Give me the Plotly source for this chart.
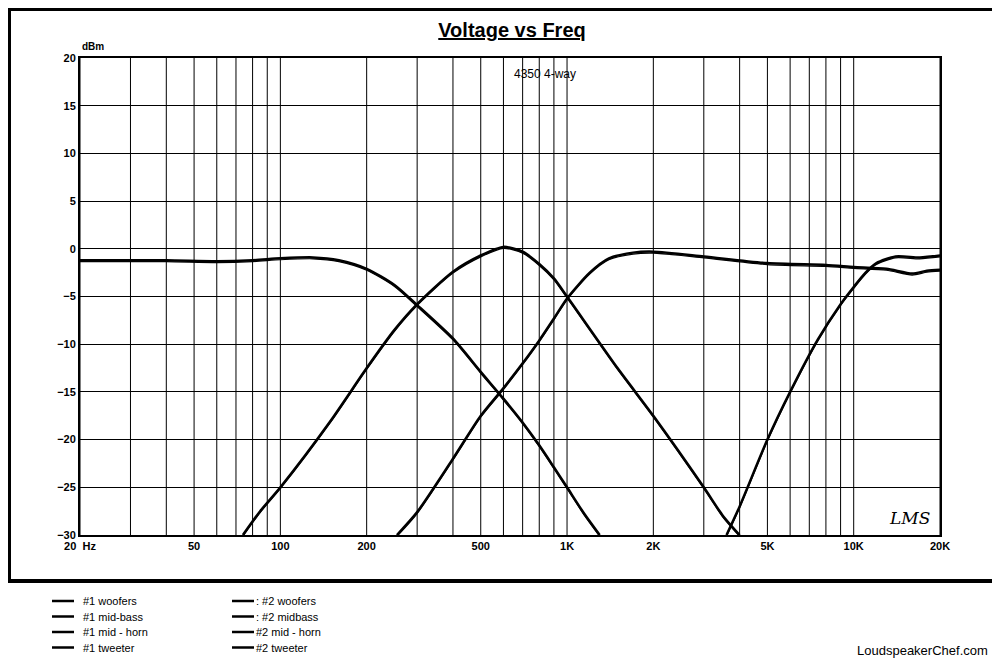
import plotly.graph_objects as go

# frequency response curves (Hz, dB)
woofer_f = [20, 40, 60, 80, 100, 130, 160, 200, 250, 300, 400, 500, 600, 700, 800, 900, 1000, 1150, 1300]
woofer_db = [-1.2, -1.2, -1.3, -1.2, -1.0, -0.9, -1.2, -2.1, -3.8, -5.9, -9.4, -12.9, -15.7, -18.2, -20.6, -22.9, -25.0, -27.8, -30.0]

midbass_f = [74, 85, 100, 150, 200, 250, 300, 400, 500, 600, 700, 800, 900, 1000, 1500, 2000, 3000, 3500, 4000]
midbass_db = [-30.0, -27.5, -25.0, -18.0, -12.5, -8.5, -5.8, -2.4, -0.7, 0.2, -0.3, -1.6, -3.1, -5.0, -12.5, -17.5, -25.0, -28.0, -30.0]

horn_f = [255, 300, 400, 500, 600, 700, 800, 900, 1000, 1200, 1400, 1700, 2000, 3000, 5000, 8000, 10000, 13000, 16000, 18000, 20000]
horn_db = [-30.0, -27.6, -22.0, -17.5, -14.6, -12.0, -9.6, -7.3, -5.2, -2.5, -1.0, -0.4, -0.3, -0.8, -1.5, -1.7, -1.9, -2.1, -2.6, -2.3, -2.2]

tweeter_f = [3600, 4000, 5000, 6000, 7500, 9000, 10000, 11000, 12000, 14000, 17000, 20000]
tweeter_db = [-30.0, -27.0, -20.0, -15.0, -9.5, -5.8, -4.0, -2.5, -1.5, -0.8, -0.9, -0.7]

tick_vals = [20, 50, 100, 200, 500, 1000, 2000, 5000, 10000, 20000]
tick_text = ["20  Hz", "50", "100", "200", "500", "1K", "2K", "5K", "10K", "20K"]
grid_vals = [20, 30, 40, 50, 60, 70, 80, 90, 100, 200, 300, 400, 500, 600, 700, 800, 900,
             1000, 2000, 3000, 4000, 5000, 6000, 7000, 8000, 9000, 10000, 20000]

legend_left = ["#1 woofers", "#1 mid-bass", "#1 mid - horn", "#1 tweeter"]
legend_right = [": #2 woofers", ": #2 midbass", "#2 mid - horn", "#2 tweeter"]

fig = go.Figure()
curves = [(woofer_f, woofer_db), (midbass_f, midbass_db), (horn_f, horn_db), (tweeter_f, tweeter_db)]
for f, db in curves:
    fig.add_trace(go.Scatter(x=f, y=db, mode="lines",
                             line=dict(color="black", width=2.5, shape="spline", smoothing=0.7),
                             showlegend=False, hoverinfo="skip"))
# second set, nearly on top of first
for f, db in curves:
    fig.add_trace(go.Scatter(x=f, y=[v - 0.15 for v in db], mode="lines",
                             line=dict(color="black", width=1.2, shape="spline", smoothing=0.7),
                             showlegend=False, hoverinfo="skip"))

# vertical grid lines
for g in grid_vals:
    fig.add_shape(type="line", xref="x", yref="paper", x0=g, x1=g, y0=0, y1=1,
                  line=dict(color="black", width=1), layer="below")

font = dict(family="Liberation Sans, Arial", size=11, color="black")

# page has an 8px body margin, so the figure is drawn 8px in from the window edge
OFF = 8
W, H = 1000 - OFF, 665 - OFF
L, T = 80 - OFF, 58 - OFF
PW, PH = 860, 477

fig.update_layout(
    width=W, height=H,
    margin=dict(l=L, r=W - L - PW, t=T, b=H - T - PH),
    paper_bgcolor="white", plot_bgcolor="white",
    font=font,
    xaxis=dict(type="log", range=[1.30103, 4.30103], tickvals=tick_vals, ticktext=tick_text,
               showgrid=False, showline=True, linecolor="black", linewidth=2, mirror=True,
               tickfont=dict(family="Liberation Sans, Arial", size=11, color="black", weight="bold"),
               ticks="", zeroline=False),
    yaxis=dict(range=[-30, 20], dtick=5, showgrid=True, gridcolor="black", gridwidth=1,
               showline=True, linecolor="black", linewidth=2, mirror=True, zeroline=False,
               ticks="", tickfont=dict(family="Liberation Sans, Arial", size=11, color="black", weight="bold")),
    title=dict(text="<b><u>Voltage vs Freq</u></b>", x=(512 - OFF) / W, xanchor="center",
               y=1 - (30 - OFF) / H, yanchor="middle",
               font=dict(family="Liberation Sans, Arial", size=20, color="black")),
)


def px_x(p):
    return (p - 80) / PW


def px_y(p):
    return (535 - p) / PH


ann = [
    dict(text="<b>dBm</b>", x=px_x(80), y=px_y(47), xanchor="left", yanchor="middle", font=dict(size=10)),
    dict(text="4350 4-way", x=px_x(545), y=px_y(74), xanchor="center", yanchor="middle", font=dict(size=12)),
    dict(text="<i>LMS</i>", x=px_x(932), y=px_y(518), xanchor="right", yanchor="middle",
         font=dict(family="DejaVu Serif", size=17)),
    dict(text="LoudspeakerChef.com", x=px_x(990), y=px_y(650), xanchor="right", yanchor="middle",
         font=dict(size=13)),
]
for a in ann:
    a.update(xref="paper", yref="paper", showarrow=False)
    fig.add_annotation(**a)

# legend drawn as line + text
for i, (l1, l2) in enumerate(zip(legend_left, legend_right)):
    yp = px_y(601 + i * 15.5)
    x1 = px_x(52)
    x2 = px_x(232)
    fig.add_shape(type="line", xref="paper", yref="paper", x0=x1, x1=x1 + 22 / PW, y0=yp, y1=yp,
                  line=dict(color="black", width=2.5))
    fig.add_shape(type="line", xref="paper", yref="paper", x0=x2, x1=x2 + 22 / PW, y0=yp, y1=yp,
                  line=dict(color="black", width=2.5))
    fig.add_annotation(text=l1, xref="paper", yref="paper", x=x1 + 29 / PW, y=yp, xanchor="left",
                       yanchor="middle", showarrow=False, font=dict(size=11))
    fig.add_annotation(text=l2, xref="paper", yref="paper", x=x2 + 22 / PW, y=yp, xanchor="left",
                       yanchor="middle", showarrow=False, font=dict(size=11))

# outer frame around the chart region
fig.add_shape(type="rect", xref="paper", yref="paper", x0=px_x(OFF + 1), x1=px_x(996), y0=px_y(OFF + 1),
              y1=px_y(581), line=dict(color="black", width=4))

fig.write_html("out.html")
